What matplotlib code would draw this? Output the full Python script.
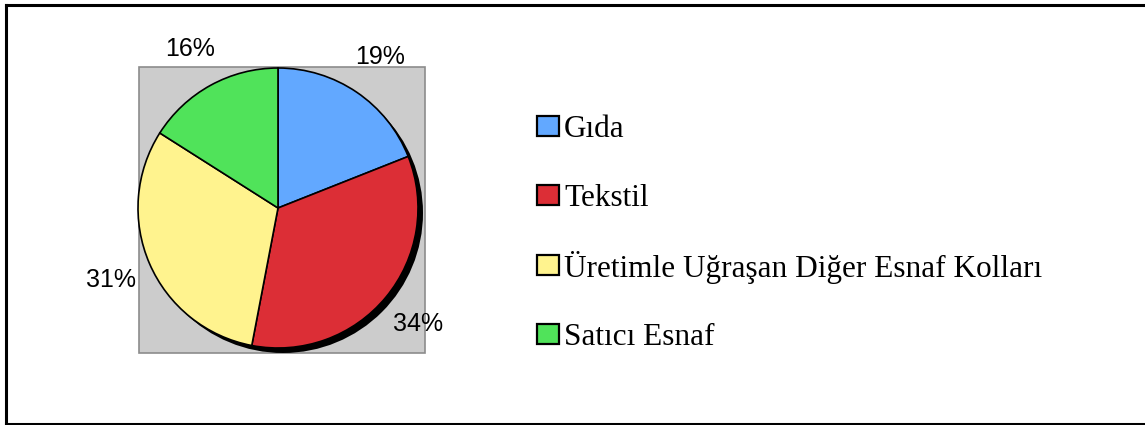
import matplotlib.pyplot as plt
from matplotlib.patches import Circle, Rectangle

# Data
CATEGORIES = ["Gıda", "Tekstil", "Üretimle Uğraşan Diğer Esnaf Kolları", "Satıcı Esnaf"]
SHARES = [19, 34, 31, 16]
COLORS = ["#62a8ff", "#dc2e36", "#fff38e", "#50e35a"]

W, H = 1145, 425


def main():
    fig = plt.figure(figsize=(W / 100, H / 100), dpi=100)
    ax = fig.add_axes([0, 0, 1, 1])

    # grey plot area
    ax.add_patch(Rectangle((139, H - 353), 286, 286, facecolor="#cccccc",
                           edgecolor="#8c8c8c", lw=1.2, zorder=1))

    cx, cy, r = 278, H - 208, 140
    # shadow
    ax.add_patch(Circle((cx + 5, cy - 5), r, facecolor="black", edgecolor="none",
                        zorder=2))

    wedges, texts, autotexts = ax.pie(
        SHARES, colors=COLORS, startangle=90, counterclock=False,
        center=(cx, cy), radius=r, autopct="%.0f%%", pctdistance=1.3,
        wedgeprops=dict(edgecolor="black", linewidth=1.2),
        textprops=dict(family="Liberation Sans", fontsize=18, color="black"),
        frame=True)
    for w in wedges:
        w.set_zorder(3)
    for t in autotexts:
        t.set_zorder(5)

    ax.set_aspect("auto")
    ax.set_xlim(0, W)
    ax.set_ylim(0, H)
    ax.axis("off")

    # outer frame (right edge runs off the picture)
    ax.plot([6, W + 20], [H - 5, H - 5], color="black", lw=2.2, clip_on=True)
    ax.plot([6, 6], [H - 5, -5], color="black", lw=2.2, clip_on=True)
    ax.plot([6, W + 20], [1, 1], color="black", lw=2.2, clip_on=True)

    # legend
    y0 = H - 125.5
    step = 69.5
    for i, (name, col) in enumerate(zip(CATEGORIES, COLORS)):
        y = y0 - i * step
        ax.add_patch(Rectangle((537, y - 10), 22, 20, facecolor=col,
                               edgecolor="black", lw=1.6, zorder=4))
        ax.text(564, y, name, family="Liberation Serif", fontsize=22.5,
                ha="left", va="center_baseline", zorder=4)

    fig.savefig("out.png", dpi=100)
    plt.close(fig)


if __name__ == "__main__":
    main()
